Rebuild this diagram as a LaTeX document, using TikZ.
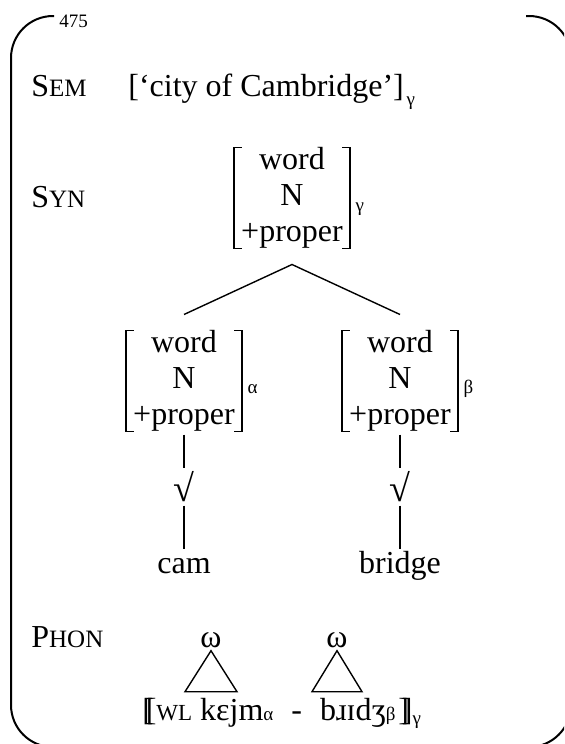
\documentclass[tikz,border=0pt]{standalone}
\usepackage{fontspec}
\setmainfont{Liberation Serif}
\usetikzlibrary{positioning}

\newcommand{\fakesc}[2]{#1{\fontsize{12.5}{14}\selectfont #2}}
\newcommand{\dblbrack}[1]{\rlap{#1}\kern1.7pt#1}

\tikzset{
  avm/.style={align=center, inner xsep=3.5pt, inner ysep=0pt, outer ysep=8pt},
  brack/.style={line width=0.8pt},
  tier/.style={anchor=base west, inner sep=0pt},
  idx/.style={anchor=base west, inner sep=0pt, font=\fontsize{9.5}{11}\selectfont},
  root/.style={inner sep=1.5pt, font=\fontsize{19}{22}\selectfont},
  form/.style={inner sep=1pt, text height=11pt, text depth=3.5pt},
  branch/.style={line width=0.7pt},
}

\begin{document}
\begin{tikzpicture}[x=0.5pt, y=-0.5pt, font=\fontsize{16}{18}\selectfont]
\clip (0,0) rectangle (564,744);
\draw [line width=1pt, rounded corners=21pt]
     (54,16) -- (11,16) -- (11,747) -- (571,747) -- (571,16) -- (526,16);
\node [anchor=base west, inner sep=0pt, font=\fontsize{9.5}{11}\selectfont] (page) at (59,27) {475};

%%%%%%%%%%%%%%%%%%%%%%%%%%%%%%%%%%%%%%%%

\node [tier] (sem) at (31,96) {\fakesc{S}{EM}};
\node [tier] (semval) at (128,96) {[‘city of Cambridge’]};
\node [idx] (semidx) at ([xshift=1pt, yshift=-4.5pt]semval.base east) {γ};

\node [tier] (syn) at (31,207) {\fakesc{S}{YN}};
\node [avm] (wordtop) at (292,198) {word\\N\\+proper};
\node [idx] (topidx) at ([xshift=2.5pt, yshift=-6.5pt]wordtop.east) {γ};

\node [avm] (wordcam) at (184,381) {word\\N\\+proper};
\node [idx] (camidx) at ([xshift=2.5pt, yshift=-6pt]wordcam.east) {α};
\node [avm] (wordbridge) at (400,381) {word\\N\\+proper};
\node [idx] (bridgeidx) at ([xshift=2.5pt, yshift=-6pt]wordbridge.east) {β};

\foreach \n in {wordtop, wordcam, wordbridge} {
  \draw [brack] ([xshift=4pt, yshift=-8pt]\n.north west) -| ([yshift=8pt]\n.south west) -- ++(8,0);
  \draw [brack] ([xshift=-4pt, yshift=-8pt]\n.north east) -| ([yshift=8pt]\n.south east) -- ++(-8,0);
}

\draw [branch] (wordcam.north) -- (wordtop.south) -- (wordbridge.north);

\node [root] (rootcam) at (184,487) {√};
\node [root] (rootbridge) at (400,487) {√};
\node [form, anchor=base] (cam) at (184,573) {cam};
\node [form, anchor=base] (bridge) at (400,573) {bridge};
\draw [branch, shorten <=-6.5pt] (wordcam.south) -- (rootcam.north);
\draw [branch, shorten <=-6.5pt] (wordbridge.south) -- (rootbridge.north);
\draw [branch] (rootcam.south) -- (cam.north);
\draw [branch] (rootbridge.south) -- (bridge.north);

%%%%%%%%%%%%%%%%%%%%%%%%%%%%%%%%%%%%%%%%

\node [tier] (phon) at (31,647) {\fakesc{P}{HON}};
\node [anchor=base, inner sep=1.5pt] (omcam) at (211,647) {ω};
\node [anchor=base, inner sep=1.5pt] (ombridge) at (337,647) {ω};
\draw [branch] (omcam.south) -- ++(-26,41) -- ++(52,0) -- cycle;
\draw [branch] (ombridge.south) -- ++(-25,41) -- ++(50,0) -- cycle;
\node [tier] (phonform) at (142,720)
  {\dblbrack{[}{\fontsize{11.5}{13}\selectfont WL} kɛjm{\fontsize{9.5}{11}\selectfont α}\hspace{9pt}-\hspace{9pt}bɹɪdʒ{\fontsize{9.5}{11}\selectfont β}\hspace{1.5pt}\dblbrack{]}\raisebox{-2pt}{\fontsize{9.5}{11}\selectfont γ}};

\end{tikzpicture}
\end{document}
